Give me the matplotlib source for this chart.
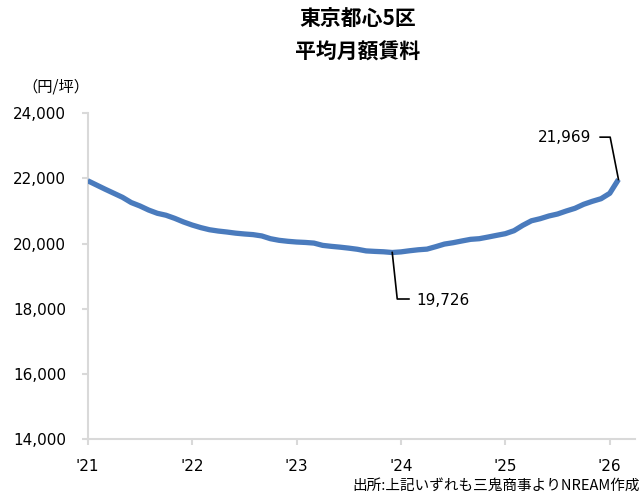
import matplotlib
matplotlib.use("Agg")
import matplotlib.pyplot as plt
from matplotlib.lines import Line2D
import matplotlib.transforms as mtransforms
import numpy as np

# ---- data (monthly, Jan 2021 - Feb 2026) ----
rent = [21930, 21800, 21670, 21545, 21420, 21260, 21155, 21030, 20930, 20870,
        20775, 20665, 20570, 20490, 20425, 20385, 20355, 20320, 20295, 20275,
        20235, 20150, 20100, 20070, 20048, 20035, 20015, 19945, 19915, 19890,
        19860, 19825, 19775, 19760, 19748, 19726, 19745, 19780, 19810, 19830,
        19905, 19985, 20027, 20080, 20130, 20150, 20200, 20253, 20304, 20396,
        20560, 20700, 20764, 20847, 20908, 21000, 21083, 21206, 21298, 21378,
        21544, 21969]
year_labels = ["'21", "'22", "'23", "'24", "'25", "'26"]
year_tick_idx = [0, 12, 24, 36, 48, 60]
y_ticks = [14000, 16000, 18000, 20000, 22000, 24000]
title_lines = ["東京都心5区", "平均月額賃料"]
unit_label = "（円/坪）"
source_text = "出所:上記いずれも三鬼商事よりNREAM作成"

JP = ["Noto Sans CJK JP", "DejaVu Sans"]
NUM = ["DejaVu Sans"]
line_color = "#4a7bbd"
axis_color = "#d9d9d9"

W, H = 643, 494
fig = plt.figure(figsize=(W / 100, H / 100), dpi=100)
ax = fig.add_axes([87.7 / W, 55 / H, (635 - 87.7) / W, (439 - 113.3) / H])

x = np.arange(len(rent))
ax.plot(x, rent, color=line_color, lw=3.8, solid_capstyle="butt", solid_joinstyle="round", zorder=3)

ax.set_xlim(0, 62.9)
ax.set_ylim(14000, 24000)
ax.set_yticks(y_ticks)
ax.set_yticklabels([f"{v:,}" for v in y_ticks], fontfamily=NUM, fontsize=11)
ax.set_xticks(year_tick_idx)
ax.set_xticklabels(year_labels, fontfamily=NUM, fontsize=11)
offset = mtransforms.ScaledTranslation(5 / 100, 0, fig.dpi_scale_trans)
for lab in ax.get_xticklabels():
    lab.set_transform(lab.get_transform() + offset)

for s in ["top", "right"]:
    ax.spines[s].set_visible(False)
for s in ["left", "bottom"]:
    ax.spines[s].set_color(axis_color)
    ax.spines[s].set_linewidth(1.5)
ax.tick_params(axis="y", length=4, width=1.5, color=axis_color, pad=11.5, labelcolor="black")
ax.tick_params(axis="x", length=4.5, width=1.5, color=axis_color, pad=10, labelcolor="black")

# titles
fig.text(358 / W, 1 - 18.8 / H, title_lines[0], ha="center", va="center",
         fontfamily=JP, fontsize=15, fontweight="bold")
fig.text(358 / W, 1 - 51.7 / H, title_lines[1], ha="center", va="center",
         fontfamily=JP, fontsize=15, fontweight="bold")
fig.text(56 / W, 1 - 87 / H, unit_label, ha="center", va="center",
         fontfamily=JP, fontsize=11)
fig.text(640 / W, 1 - 486 / H, source_text, ha="right", va="center",
         fontfamily=JP, fontsize=10.5)

# annotations with leader lines (pixel offsets from the data point)
fig.canvas.draw()
def leader(idx, pts, text_off, ha):
    px, py = ax.transData.transform((idx, rent[idx]))
    xs = [px] + [px + dx for dx, dy in pts]
    ys = [py] + [py + dy for dx, dy in pts]
    fig.add_artist(Line2D(xs, ys, transform=None, color="black", lw=1.2, zorder=5))
    fig.text((px + text_off[0]) / W, (py + text_off[1]) / H, f"{rent[idx]:,}",
             ha=ha, va="center", fontfamily=NUM, fontsize=11)

i_min = int(np.argmin(rent))
leader(len(rent) - 1, [(-8.3, 42.3), (-18.3, 42.3)], (-27, 41.5), "right")
leader(i_min, [(5, -46.5), (16.7, -46.5)], (24.5, -47.5), "left")

fig.savefig("out.png", dpi=100)
